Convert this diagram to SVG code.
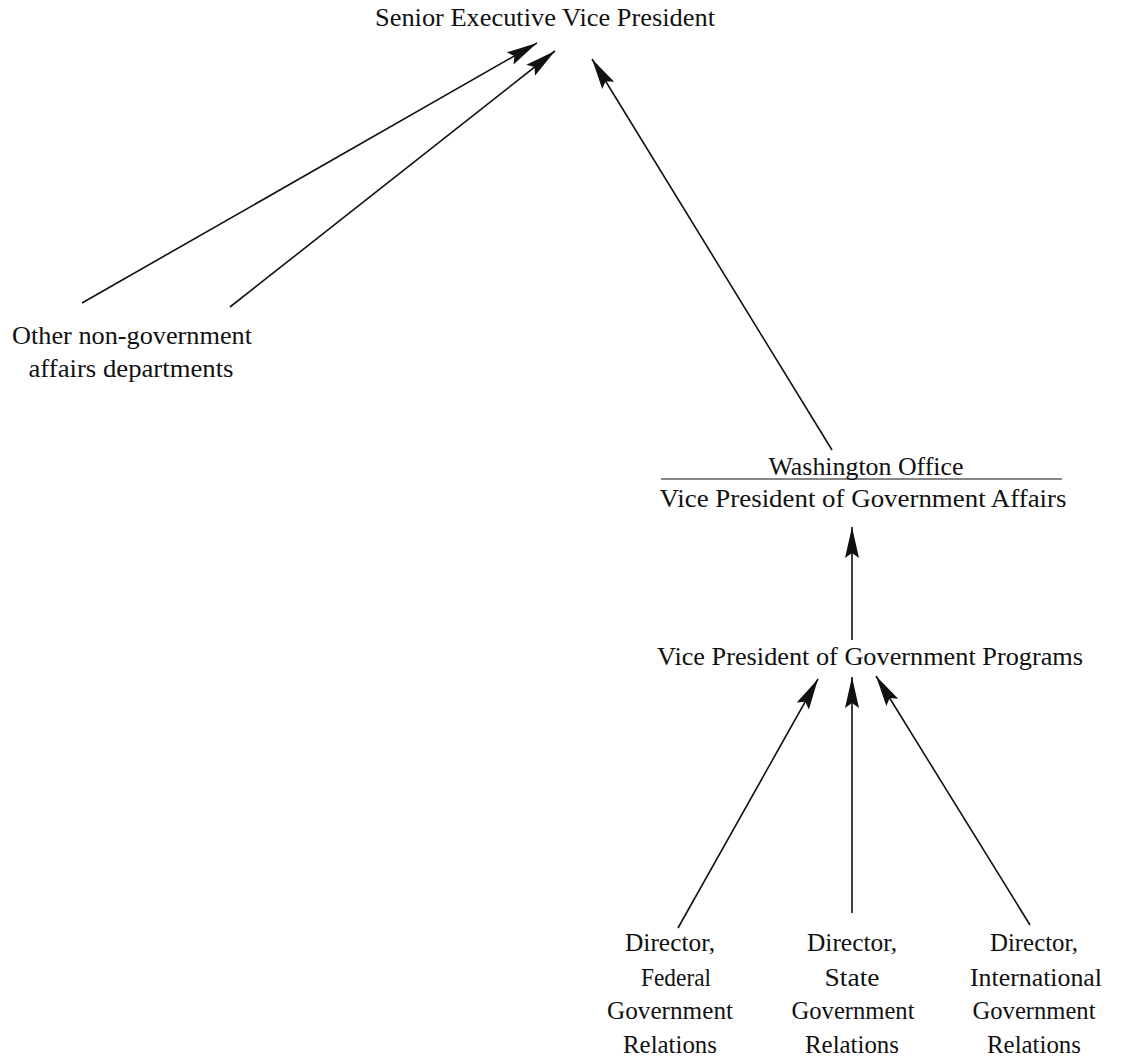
<svg xmlns="http://www.w3.org/2000/svg" width="1140" height="1059" viewBox="0 0 1140 1059">
  <style>
    text { font-family: "Liberation Serif", "Times New Roman", serif; font-size: 25px; fill: #111; text-anchor: middle; }
    .edge { stroke: #111; stroke-width: 1.6; fill: none; marker-end: url(#head); }
    .rule { stroke: #111; stroke-width: 1.2; }
  </style>
  <defs>
    <marker id="head" markerUnits="userSpaceOnUse" markerWidth="36" markerHeight="18" viewBox="-34 -9 36 18" refX="0" refY="0" orient="auto">
      <path d="M0,0 L-31,-7 L-26,0 L-31,7 Z" fill="#111"/>
    </marker>
  </defs>

  <rect width="1140" height="1059" fill="#fff"/>

  <!-- reporting lines -->
  <g id="connectors">
    <line class="edge" x1="82" y1="303" x2="537" y2="43"/>
    <line class="edge" x1="230" y1="307" x2="555" y2="51"/>
    <line class="edge" x1="832" y1="450" x2="592" y2="59"/>
    <line class="edge" x1="852" y1="640" x2="852" y2="527"/>
    <line class="edge" x1="678" y1="928" x2="818" y2="679"/>
    <line class="edge" x1="852" y1="913" x2="852" y2="677"/>
    <line class="edge" x1="1030" y1="925" x2="876" y2="676"/>
  </g>

  <g id="senior-evp">
    <text x="545" y="26" textLength="340" lengthAdjust="spacingAndGlyphs">Senior Executive Vice President</text>
  </g>

  <g id="other-departments">
    <text x="132" y="344" textLength="240" lengthAdjust="spacingAndGlyphs">Other non-government</text>
    <text x="131" y="377" textLength="205" lengthAdjust="spacingAndGlyphs">affairs departments</text>
  </g>

  <g id="vp-government-affairs">
    <text x="866" y="475" textLength="195" lengthAdjust="spacingAndGlyphs">Washington Office</text>
    <line class="rule" x1="661" y1="479" x2="1062" y2="479"/>
    <text x="863" y="507" textLength="407" lengthAdjust="spacingAndGlyphs">Vice President of Government Affairs</text>
  </g>

  <g id="vp-government-programs">
    <text x="870" y="665" textLength="426" lengthAdjust="spacingAndGlyphs">Vice President of Government Programs</text>
  </g>

  <g id="director-federal">
    <text x="670" y="951" textLength="90" lengthAdjust="spacingAndGlyphs">Director,</text>
    <text x="676" y="986" textLength="70" lengthAdjust="spacingAndGlyphs">Federal</text>
    <text x="670" y="1019" textLength="126" lengthAdjust="spacingAndGlyphs">Government</text>
    <text x="670" y="1053" textLength="94" lengthAdjust="spacingAndGlyphs">Relations</text>
  </g>

  <g id="director-state">
    <text x="852" y="951" textLength="90" lengthAdjust="spacingAndGlyphs">Director,</text>
    <text x="852" y="986" textLength="55" lengthAdjust="spacingAndGlyphs">State</text>
    <text x="853" y="1019" textLength="123" lengthAdjust="spacingAndGlyphs">Government</text>
    <text x="852" y="1053" textLength="94" lengthAdjust="spacingAndGlyphs">Relations</text>
  </g>

  <g id="director-international">
    <text x="1034" y="951" textLength="88" lengthAdjust="spacingAndGlyphs">Director,</text>
    <text x="1036" y="986" textLength="132" lengthAdjust="spacingAndGlyphs">International</text>
    <text x="1034" y="1019" textLength="123" lengthAdjust="spacingAndGlyphs">Government</text>
    <text x="1034" y="1053" textLength="94" lengthAdjust="spacingAndGlyphs">Relations</text>
  </g>
</svg>
